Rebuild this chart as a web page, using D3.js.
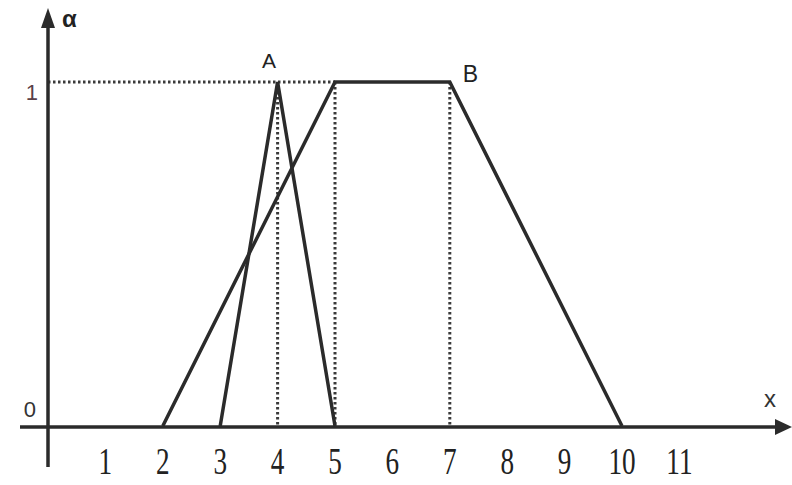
<!DOCTYPE html>
<html>
<head>
<meta charset="utf-8">
<script src="https://cdn.jsdelivr.net/npm/d3@7"></script>
<style>
  html, body { margin: 0; padding: 0; background: #fff; }
  svg { display: block; }
</style>
</head>
<body>
<script>
// ---- data ----
const xTickValues = [1, 2, 3, 4, 5, 6, 7, 8, 9, 10, 11];
const yTickValues = [0, 1];
const seriesA = [[3, 0], [4, 1], [5, 0]];            // triangular fuzzy number A
const seriesB = [[2, 0], [5, 1], [7, 1], [10, 0]];   // trapezoidal fuzzy number B
const guideVerticals = [4, 5, 7];
const guideHorizontal = { alpha: 1, from: 0, to: 5 };
const labelA = { name: "A", x: 3.85 };
const labelB = { name: "B", x: 7.36 };

// ---- layout ----
const W = 792, H = 485;
const svg = d3.select("body").append("svg").attr("width", W).attr("height", H);

const x = d3.scaleLinear().domain([0, 10]).range([48, 622]);
const y = d3.scaleLinear().domain([0, 1]).range([426, 82]);

const ink = "#2b2b2b";

// guides (dotted)
const guides = svg.append("g")
  .attr("stroke", "#3a3a3a").attr("stroke-width", 3)
  .attr("stroke-dasharray", "2.5,2.5").attr("fill", "none");
guides.append("line")
  .attr("x1", x(guideHorizontal.from)).attr("x2", x(guideHorizontal.to))
  .attr("y1", y(guideHorizontal.alpha)).attr("y2", y(guideHorizontal.alpha));
guides.selectAll("line.v").data(guideVerticals).join("line").attr("class", "v")
  .attr("x1", d => x(d)).attr("x2", d => x(d))
  .attr("y1", y(1)).attr("y2", y(0));

// axes
const axes = svg.append("g").attr("stroke", ink).attr("stroke-width", 3.5);
axes.append("line").attr("x1", 20).attr("x2", 780).attr("y1", y(0) + 1).attr("y2", y(0) + 1);
axes.append("line").attr("x1", x(0)).attr("x2", x(0)).attr("y1", 467).attr("y2", 24);
svg.append("path").attr("fill", ink)
  .attr("d", `M792,${y(0) + 1} L775,${y(0) - 7} L775,${y(0) + 9} Z`);
svg.append("path").attr("fill", ink)
  .attr("d", `M${x(0)},8 L${x(0) - 7},28 L${x(0) + 7},28 Z`);

// x tick labels via d3 axis
const sx = 0.85, sy = 1.2;
const xAxis = d3.axisBottom(x).tickValues(xTickValues).tickSize(0).tickPadding(0);
const gx = svg.append("g").call(xAxis);
gx.select(".domain").remove();
gx.selectAll(".tick").attr("transform", null);
gx.selectAll("text")
  .attr("y", 0).attr("dy", 0).attr("x", 0)
  .attr("transform", d => `translate(${x(d)},474) scale(${sx},${sy})`)
  .attr("fill", "#222")
  .attr("font-family", "'Liberation Serif', 'DejaVu Serif', serif")
  .attr("font-size", 32)
  .attr("text-anchor", "middle");

// y tick labels
svg.selectAll("text.ytick").data(yTickValues).join("text").attr("class", "ytick")
  .attr("x", d => d === 0 ? 36 : 38)
  .attr("y", d => d === 0 ? y(d) - 9 : y(d) + 18)
  .attr("text-anchor", "end")
  .attr("font-family", "'Liberation Sans', Arial, sans-serif")
  .attr("font-size", 22)
  .attr("fill", d => d === 0 ? "#333" : "#5a4048")
  .text(d => d);

// series
const line = d3.line().x(d => x(d[0])).y(d => y(d[1]));
[seriesA, seriesB].forEach(s => {
  svg.append("path").datum(s).attr("d", line)
    .attr("fill", "none").attr("stroke", ink).attr("stroke-width", 3.5)
    .attr("stroke-linejoin", "miter");
});

// series labels
svg.append("text").attr("x", x(labelA.x)).attr("y", 68)
  .attr("font-family", "'Liberation Sans', Arial, sans-serif").attr("font-size", 21)
  .attr("fill", "#222").attr("text-anchor", "middle").text(labelA.name);
svg.append("text").attr("x", x(labelB.x)).attr("y", 82)
  .attr("font-family", "'Liberation Sans', Arial, sans-serif").attr("font-size", 23)
  .attr("fill", "#222").attr("text-anchor", "middle").text(labelB.name);

// axis titles
svg.append("text").attr("x", 62).attr("y", 27)
  .attr("font-family", "'Liberation Sans', Arial, sans-serif").attr("font-size", 24)
  .attr("font-weight", "bold").attr("fill", "#222").text("α");
svg.append("text").attr("x", 764).attr("y", 407)
  .attr("font-family", "'Liberation Sans', Arial, sans-serif").attr("font-size", 24)
  .attr("fill", "#333").text("x");
</script>
</body>
</html>
